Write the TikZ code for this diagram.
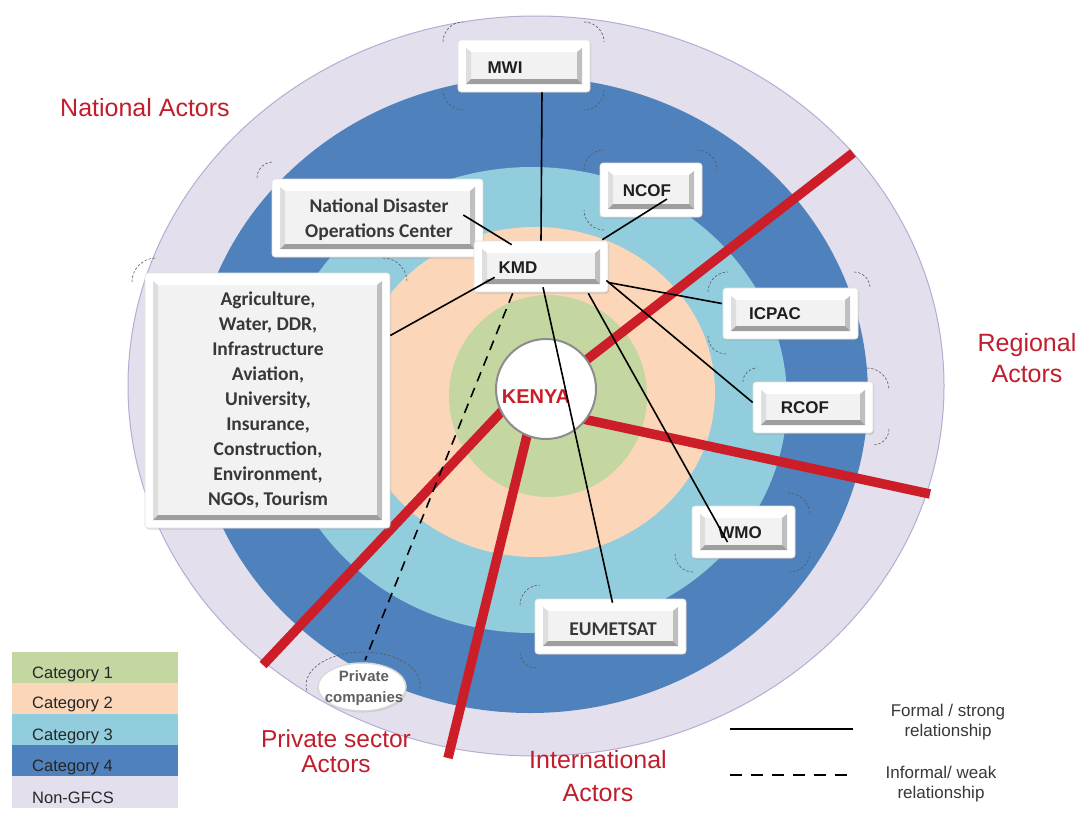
\documentclass[tikz,border=0pt]{standalone}
\usepackage{fontspec}
\setmainfont{Liberation Sans}
\newfontfamily\calib{Carlito}
\usetikzlibrary{calc,shadows,shapes.geometric}
\definecolor{cat1}{RGB}{196,215,160}
\definecolor{cat2}{RGB}{251,214,184}
\definecolor{cat3}{RGB}{146,205,221}
\definecolor{cat4}{RGB}{79,129,189}
\definecolor{nong}{RGB}{228,223,236}
\definecolor{nongedge}{RGB}{182,172,212}
\definecolor{kred}{RGB}{204,30,40}
\definecolor{tred}{RGB}{192,30,45}
\tikzset{
  outerbox/.style={fill=white, draw=black!12, line width=0.6pt, rounded corners=3pt, inner sep=0pt,
    drop shadow={shadow xshift=1.2pt, shadow yshift=-1.6pt, opacity=0.28}},
  blab/.style={font=\bfseries\fontsize{17}{20}\selectfont, text=black!88, inner sep=0pt},
  clab/.style={font=\calib\bfseries\fontsize{19.5}{25}\selectfont, text=black!78, inner sep=0pt, align=center},
  conn/.style={line width=1.6pt, draw=black},
  weak/.style={line width=1.6pt, draw=black, dash pattern=on 10pt off 7pt},
  redline/.style={line width=9.5pt, draw=kred},
  halo/.style={line width=0.6pt, draw=black!65, dash pattern=on 2.5pt off 1.8pt},
  actorlbl/.style={text=tred, inner sep=0pt, align=center},
  legrow/.style={minimum width=166pt, minimum height=31pt, inner sep=0pt, draw=none},
  legtxt/.style={font=\fontsize{16.5}{19}\selectfont, text=black!85, inner sep=0pt},
  reltxt/.style={font=\fontsize{17}{20}\selectfont, text=black!78, inner sep=0pt},
}
\newcommand{\kbev}[4]{%
  \fill[black!5] (#1,#2) rectangle (#3,#4);
  \fill[white] (#1,#2) -- (#3,#2) -- (#3-5,#2+4) -- (#1+5,#2+4) -- cycle;
  \fill[black!13] (#1,#2) -- (#1+5,#2+4) -- (#1+5,#4-5) -- (#1,#4) -- cycle;
  \fill[black!25] (#3,#2) -- (#3,#4) -- (#3-5,#4-5) -- (#3-5,#2+4) -- cycle;
  \fill[black!38] (#1,#4) -- (#3,#4) -- (#3-5,#4-5) -- (#1+5,#4-5) -- cycle;
}
\newcommand{\kbox}[5]{%
  \node[outerbox, minimum width={#4-#2}, minimum height={#5-#3}] (#1) at ({(#2+#4)/2},{(#3+#5)/2}) {};
  \kbev{#2+8}{#3+8}{#4-8}{#5-8}%
}
\newcommand{\hTL}[3]{\draw[halo] (#1,#2+#3) arc[start angle=180,end angle=270,radius=#3];}
\newcommand{\hTR}[3]{\draw[halo] (#1-#3,#2) arc[start angle=270,end angle=360,radius=#3];}
\newcommand{\hBR}[3]{\draw[halo] (#1,#2-#3) arc[start angle=0,end angle=90,radius=#3];}
\newcommand{\hBL}[3]{\draw[halo] (#1+#3,#2) arc[start angle=90,end angle=180,radius=#3];}
\begin{document}
\begin{tikzpicture}[x=1pt,y=-1pt]
\useasboundingbox (0,0) rectangle (1083,814);
\fill[white] (0,0) rectangle (1083,814);

% rings
\fill[nong, draw=nongedge, line width=1pt] (536,386) ellipse [x radius=408, y radius=370];
\fill[cat4] (530,395) ellipse [x radius=338, y radius=318];
\fill[cat3] (532,400) ellipse [x radius=255, y radius=233];
\fill[cat2] (535,392) ellipse [x radius=180, y radius=165];
\fill[cat1] (548,396) ellipse [x radius=99, y radius=101];

% dashed halos
\hTL{443}{22}{20} \hTR{604}{22}{20} \hBR{604}{110}{20} \hBL{443}{110}{20}
\hTL{584}{150}{20} \hTR{717}{150}{20} \hBL{584}{230}{20}
\hTL{257}{162}{16}
\hTL{132}{258}{24} \hTR{407}{258}{24}
\hTL{708}{272}{20} \hBL{708}{354}{18} \hTR{870}{272}{16}
\hTL{743}{368}{14} \hTR{889}{368}{22} \hBR{889}{445}{16}
\hTR{810}{493}{22} \hBR{810}{572}{20} \hBL{675}{572}{18}
\hTL{520}{585}{20} \hBL{520}{668}{16}
\draw[halo] (307,690.7) arc[start angle=170,end angle=370,x radius=57,y radius=33];

% red dividers
\coordinate (kc) at (546,389);
\coordinate (r1a) at (567,375); \coordinate (r1b) at (853,153);
\coordinate (r2a) at (519,393); \coordinate (r2b) at (263,665);
\coordinate (r3a) at (532,415); \coordinate (r3b) at (448,758);
\coordinate (r4a) at (560,414); \coordinate (r4b) at (930,494);
\draw[redline] (r1a) -- (r1b);
\draw[redline] (r2a) -- (r2b);
\draw[redline] (r3a) -- (r3b);
\draw[redline] (r4a) -- (r4b);

% Kenya
\node[circle, fill=white, draw=black!45, line width=2pt, minimum size=100pt, inner sep=0pt] (kenya) at (kc) {};
\node[font=\bfseries\fontsize{20}{22}\selectfont, text=kred, anchor=base, inner sep=0pt] (kenyat) at (536,403) {KENYA};

% boxes
\kbox{mwi}{458}{40}{590}{92}
\kbox{ncof}{600}{163}{702}{217}
\kbox{ndoc}{272}{179}{483}{257}
\kbox{kmd}{474}{241}{608}{292}
\kbox{sect}{145}{273}{390}{528}
\kbox{icpac}{723}{288}{858}{339}
\kbox{rcof}{753}{382}{873}{433}
\kbox{wmo}{692}{506}{795}{558}
\kbox{eumet}{535}{599}{686}{654}
\node[ellipse, fill=white, draw=black!15, line width=1.5pt, minimum width=88pt, minimum height=48pt, inner sep=0pt,
  drop shadow={shadow xshift=1pt, shadow yshift=-1.5pt, opacity=0.25}] (priv) at (362,687) {};

% box texts
\node[blab, anchor=base] (mwit) at (505,73) {MWI};
\node[blab, anchor=base] (ncoft) at (647,196) {NCOF};
\node[blab, anchor=base] (kmdt) at (518,273) {KMD};
\node[blab, anchor=base] (icpact) at (775,319) {ICPAC};
\node[blab, anchor=base] (rcoft) at (805,413) {RCOF};
\node[blab, anchor=base] (wmot) at (740,538) {WMO};
\node[clab, anchor=base] (eumett) at (613,635) {EUMETSAT};
\node[clab] (ndoct) at (379,220) {National Disaster\\Operations Center};
\node[clab] (sectt) at (268,400) {Agriculture,\\Water, DDR,\\Infrastructure\\Aviation,\\University,\\Insurance,\\Construction,\\Environment,\\NGOs, Tourism};
\node[font=\bfseries\fontsize{15}{21}\selectfont, text=black!62, inner sep=0pt, align=center] (privt) at (364,688) {Private\\companies};

% connectors
\draw[conn] ($(mwi.south)+(18,0)$) -- (kmd.north);
\draw[conn] ($(ndoc.east)+(-20,-3)$) -- ($(kmd.north west)+(38,4)$);
\draw[conn] ($(ncof.center)+(16,9)$) -- ($(kmd.north east)+(-6,-1)$);
\draw[conn] ($(kmd.south west)+(21,-15)$) -- ($(sect.east)+(0,-65)$);
\draw[conn] ($(kmd.east)+(0,16)$) -- ($(icpac.west)+(-1,-10)$);
\draw[conn] ($(kmd.east)+(-2,14)$) -- ($(rcof.west)+(0,-5)$);
\draw[conn] ($(kmd.south east)+(-20,1)$) -- ($(wmo.center)+(-16,10)$);
\draw[conn] ($(kmd.south)+(2,-5)$) -- ($(eumet.north)+(2,4)$);
\draw[weak] ($(kmd.south west)+(39,1)$) -- ($(priv.north)+(3,-2)$);

% actor labels
\node[actorlbl, font=\fontsize{25}{28}\selectfont, anchor=base] (nat) at (145,116) {National Actors};
\node[actorlbl, font=\fontsize{25}{31}\selectfont] (reg) at (1027,358) {Regional\\Actors};
\node[actorlbl, font=\fontsize{24.5}{25}\selectfont] (pri) at (336,751) {Private sector\\Actors};
\node[actorlbl, font=\fontsize{25}{33}\selectfont] (intl) at (598,776) {International\\Actors};

% legend
\node[legrow, fill=cat1, anchor=north west] (leg1) at (12,652) {};
\node[legrow, fill=cat2, anchor=north west] (leg2) at (12,683) {};
\node[legrow, fill=cat3, anchor=north west] (leg3) at (12,714) {};
\node[legrow, fill=cat4, anchor=north west] (leg4) at (12,745) {};
\node[legrow, fill=nong, anchor=north west, minimum height=32pt] (leg5) at (12,776) {};
\node[legtxt, anchor=base west] (legt1) at (32,678) {Category 1};
\node[legtxt, anchor=base west] (legt2) at (32,708) {Category 2};
\node[legtxt, anchor=base west] (legt3) at (32,740) {Category 3};
\node[legtxt, anchor=base west] (legt4) at (32,771) {Category 4};
\node[legtxt, anchor=base west] (legt5) at (32,803) {Non-GFCS};

\coordinate (ls1) at (730,729); \coordinate (ls2) at (853,729);
\coordinate (ld1) at (730,775); \coordinate (ld2) at (848,775);
\draw[conn] (ls1) -- (ls2);
\draw[line width=1.8pt, dash pattern=on 12pt off 9pt] (ld1) -- (ld2);
\node[reltxt, align=center] (rel1) at (948,722) {Formal / strong\\relationship};
\node[reltxt, align=center] (rel2) at (941,784) {Informal/ weak\\relationship};
\end{tikzpicture}
\end{document}
